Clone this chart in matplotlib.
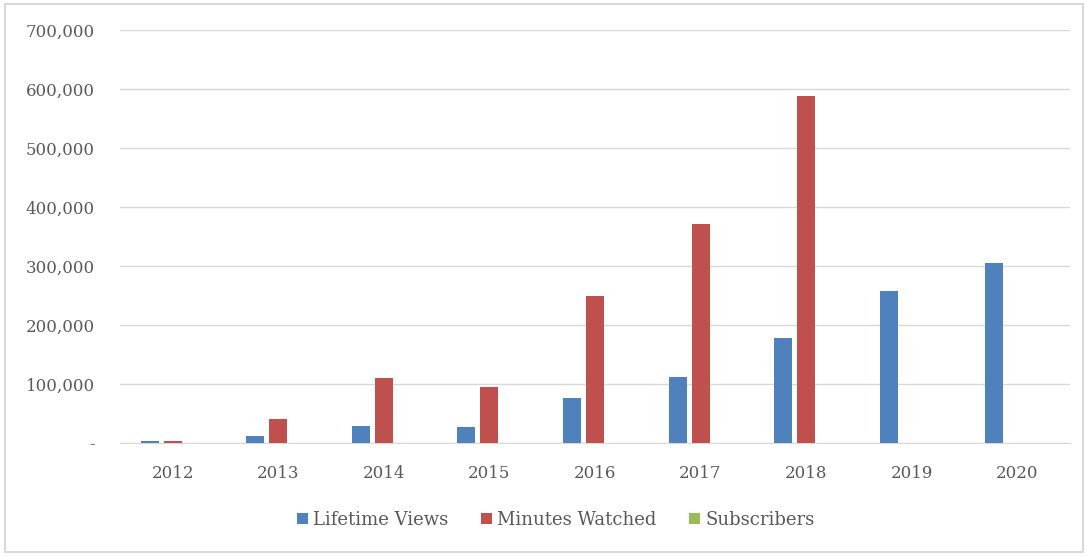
import numpy as np
import matplotlib.pyplot as plt
from matplotlib.patches import Rectangle
from matplotlib.ticker import FuncFormatter

# Datos
years = ['2012', '2013', '2014', '2015', '2016', '2017', '2018', '2019', '2020']
lifetime_views = [3000, 12000, 29000, 27000, 76000, 112000, 178000, 258000, 305000]
minutes_watched = [3000, 41000, 110000, 95000, 249000, 371000, 588000, 0, 0]
subscribers = [10, 40, 90, 110, 200, 300, 450, 550, 650]

plt.rcParams['font.family'] = ['DejaVu Serif']

fig = plt.figure(figsize=(10.87, 5.56), dpi=100)
ax = fig.add_axes([120 / 1087, 1 - 443 / 556, 950 / 1087, 413 / 556])

x = np.arange(len(years))
w = 0.17
off = 0.218
ax.bar(x - off, lifetime_views, w, color='#4f81bd', label='Lifetime Views', zorder=3)
ax.bar(x, minutes_watched, w, color='#c0504d', label='Minutes Watched', zorder=3)
ax.bar(x + off, subscribers, w, color='#9bbb59', label='Subscribers', zorder=3)

ax.set_xlim(-0.5, len(years) - 0.5)
ax.set_ylim(0, 700000)
ax.set_yticks(np.arange(0, 700001, 100000))
ax.yaxis.set_major_formatter(FuncFormatter(lambda v, p: '-' if v == 0 else f'{int(v):,}'))
ax.set_xticks(x)
ax.set_xticklabels(years)

ax.grid(axis='y', color='#d9d9d9', linewidth=1, zorder=0)
for s in ['top', 'right', 'left']:
    ax.spines[s].set_visible(False)
ax.spines['bottom'].set_color('#d9d9d9')
ax.tick_params(axis='both', length=0, labelsize=12, colors='#595959')
ax.tick_params(axis='y', pad=18)
ax.tick_params(axis='x', pad=16)

fig.legend(loc='center', bbox_to_anchor=(556 / 1087, 1 - 520 / 556), ncol=3, frameon=False,
           fontsize=13, labelcolor='#595959', handlelength=0.6, handleheight=0.6,
           handletextpad=0.3, columnspacing=1.8)

# Borde del grafico
fig.patches.append(Rectangle((5 / 1087, 4 / 556), 1078 / 1087, 548 / 556,
                             transform=fig.transFigure, fill=False,
                             edgecolor='#d9d9d9', linewidth=1.5))

fig.savefig('out.png', dpi=100)
